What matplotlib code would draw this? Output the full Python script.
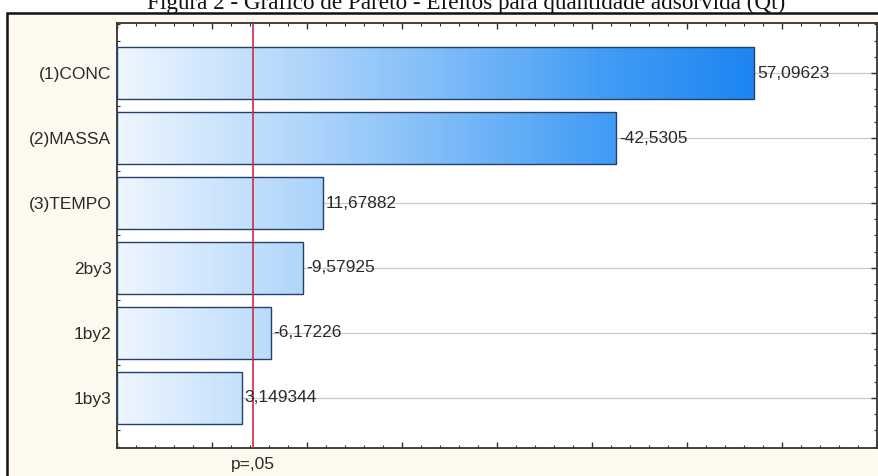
import numpy as np
import matplotlib
matplotlib.use("Agg")
import matplotlib.pyplot as plt
from matplotlib.colors import LinearSegmentedColormap, Normalize
from matplotlib.patches import Rectangle
from matplotlib.ticker import MultipleLocator, NullFormatter
from matplotlib.transforms import blended_transform_factory

# Effects (standardized), ordered by magnitude
factors = ["(1)CONC", "(2)MASSA", "(3)TEMPO", "2by3", "1by2", "1by3"]
effects = [57.09623, -42.5305, 11.67882, -9.57925, -6.17226, 3.149344]
effect_labels = ["57,09623", "-42,5305", "11,67882", "-9,57925", "-6,17226", "3,149344"]
p_limit = 4.303
p_label = "p=,05"
title = "Figura 2 - Gráfico de Pareto - Efeitos para quantidade adsorvida (Qt)"

x_min, x_max = -10, 70

plt.rcParams["font.family"] = ["Liberation Sans", "DejaVu Sans"]

fig = plt.figure(figsize=(8.79, 4.76), dpi=100)
fig.patch.set_facecolor("white")

# framed panel behind the chart
W, H = 879, 476
panel = Rectangle((7 / W, -0.05), 1.0, 1.05 - 13 / H, transform=fig.transFigure,
                  facecolor="#fdf9ee", edgecolor="#111111", linewidth=1.8,
                  zorder=-10)
fig.patches.append(panel)

fig.text(466 / W, 1 - 9 / H, title, ha="center", va="baseline",
         family=["Liberation Serif", "DejaVu Serif"], fontsize=16.7,
         color="#111111")

ax = fig.add_axes([117 / W, 1 - 448 / H, (877 - 117) / W, (448 - 23) / H])
ax.set_facecolor("white")
ax.set_zorder(2)

pos = np.arange(len(factors))
mags = np.abs(np.array(effects))

for y in pos:
    ax.axhline(y, color="#c9c9c9", linewidth=0.9, zorder=1)

# horizontal colour ramp shared by all bars (position along the x axis)
cmap = LinearSegmentedColormap.from_list(
    "pareto_blue",
    [(0.0, "#eef6ff"), (0.32, "#a9d2fa"), (0.77, "#3f9bf5"), (1.0, "#1a84f2")])
norm = Normalize(vmin=x_min, vmax=58)

bars = ax.barh(pos, mags - x_min, left=x_min, height=0.8,
               facecolor="none", edgecolor="#24406e", linewidth=1.0, zorder=3)

for bar, m, y in zip(bars, mags, pos):
    grad = np.linspace(x_min, m, 256)[None, :]
    im = ax.imshow(grad, cmap=cmap, norm=norm, aspect="auto",
                   extent=(x_min, m, y + 0.4, y - 0.4),
                   interpolation="bicubic", zorder=2)
    im.set_clip_path(bar)

for m, y, lab in zip(mags, pos, effect_labels):
    ax.text(m + 0.3, y, lab, ha="left", va="center", fontsize=12.5,
            color="#2a2a2a", zorder=5)

ax.axvline(p_limit, color="#cf2a45", linewidth=1.2, zorder=4)
trans = blended_transform_factory(ax.transData, fig.transFigure)
ax.text(p_limit, 1 - 465 / H, p_label, transform=trans, ha="center",
        va="center", fontsize=12.5, color="#2a2a2a")

ax.set_xlim(x_min, x_max)
ax.set_ylim(len(factors) - 1 + 0.77, -0.77)

ax.set_yticks(pos)
ax.set_yticklabels(factors, fontsize=12.5, color="#2a2a2a")
ax.yaxis.set_minor_locator(MultipleLocator(0.25))
ax.xaxis.set_major_locator(MultipleLocator(10))
ax.xaxis.set_minor_locator(MultipleLocator(2))
ax.xaxis.set_major_formatter(NullFormatter())

ax.tick_params(axis="both", which="both", direction="in", top=True,
               right=True, color="#333333")
ax.tick_params(axis="both", which="major", length=4, width=1)
ax.tick_params(axis="both", which="minor", length=2, width=0.8)
ax.tick_params(axis="y", which="major", pad=4)

for s in ax.spines.values():
    s.set_color("#333333")
    s.set_linewidth(1.3)

fig.savefig("out.png", dpi=100, facecolor=fig.get_facecolor())
